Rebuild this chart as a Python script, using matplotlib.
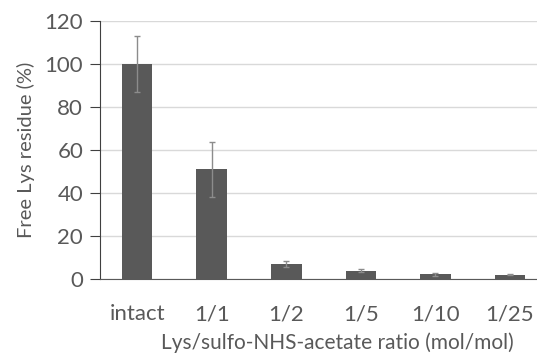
import matplotlib
matplotlib.use("Agg")
import matplotlib.pyplot as plt
import numpy as np

labels = ["intact", "1/1", "1/2", "1/5", "1/10", "1/25"]
values = [100, 51.1, 6.9, 4.0, 2.3, 2.2]
errors = [13.2, 12.8, 1.4, 0.8, 0.6, 0.4]

plt.rcParams['font.family'] = ['Lato', 'DejaVu Sans']
txt = '#595959'

fig = plt.figure(figsize=(5.37, 3.54), dpi=100)
# axis runs a bit past the right edge, as in the original
ax = fig.add_axes([0.186, 0.211, 0.833, 0.73])

x = np.arange(len(labels))
ax.bar(x, values, width=0.41, color='#595959', zorder=2)
ax.errorbar(x, values, yerr=errors, fmt='none', ecolor='#8c8c8c',
            elinewidth=1.0, capsize=2, capthick=1.0, zorder=3)

ax.set_xlim(-0.5, len(labels) - 0.5)
ax.set_ylim(0, 120)
ax.set_yticks(range(0, 121, 20))
ax.set_xticks(x)
ax.set_xticklabels(labels)
ax.grid(axis='y', color='#d9d9d9', linewidth=1.0, zorder=0)

for s in ['top', 'right']:
    ax.spines[s].set_visible(False)
ax.spines['left'].set_color('#404040')
ax.spines['bottom'].set_color('#595959')
ax.tick_params(axis='y', direction='out', length=7, color='#404040',
               labelsize=16, labelcolor=txt, pad=5)
ax.tick_params(axis='x', length=0, labelsize=16, labelcolor=txt, pad=18)

ax.set_ylabel("Free Lys residue (%)", fontsize=14.5, color=txt)
ax.yaxis.set_label_coords(-0.145, 0.5)
ax.set_xlabel("Lys/sulfo-NHS-acetate ratio (mol/mol)", fontsize=15,
              color=txt)
ax.xaxis.set_label_coords(0.532, -0.205)

fig.savefig("out.png", dpi=100)
